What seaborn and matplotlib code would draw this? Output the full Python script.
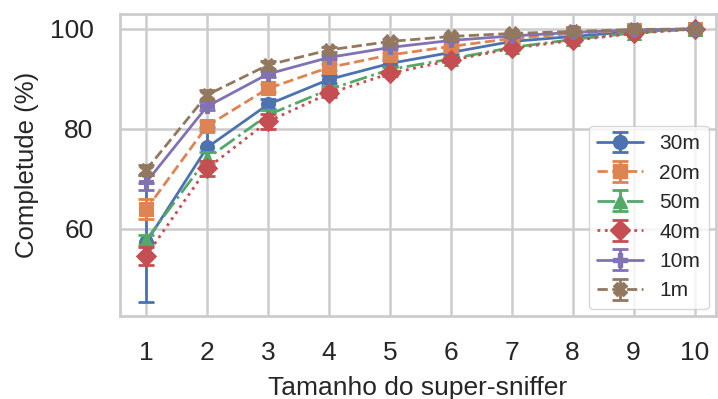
import numpy as np
import pandas as pd
import matplotlib
matplotlib.use("Agg")
import matplotlib.pyplot as plt
import seaborn as sns
from matplotlib.legend_handler import HandlerTuple
from matplotlib.lines import Line2D

x = [1, 2, 3, 4, 5, 6, 7, 8, 9, 10]
labels = ["30m", "20m", "50m", "40m", "10m", "1m"]
y_30m = [57.3, 76.3, 84.9, 89.9, 93.1, 95.3, 97.5, 98.5, 99.5, 100.0]
y_20m = [63.9, 80.6, 88.1, 92.3, 94.8, 96.5, 98.1, 99.1, 99.7, 100.0]
y_50m = [57.8, 74.1, 82.8, 87.9, 91.9, 94.0, 96.3, 97.9, 99.2, 100.0]
y_40m = [54.6, 72.1, 81.5, 87.1, 91.1, 93.7, 96.1, 97.7, 99.1, 100.0]
y_10m = [69.3, 84.5, 91.0, 94.3, 96.3, 97.7, 98.6, 99.3, 99.8, 100.0]
y_1m = [71.8, 86.8, 92.8, 95.8, 97.5, 98.5, 99.1, 99.5, 99.9, 100.0]
e_30m = [11.8, 4.0, 1.0, 0.8, 0.6, 0.4, 0.3, 0.2, 0.1, 0.0]
e_20m = [2.0, 1.0, 0.8, 0.6, 0.4, 0.3, 0.2, 0.1, 0.1, 0.0]
e_50m = [1.0, 1.2, 0.9, 0.6, 0.4, 0.3, 0.2, 0.1, 0.1, 0.0]
e_40m = [1.7, 1.5, 1.5, 0.8, 0.5, 0.4, 0.3, 0.2, 0.1, 0.0]
e_10m = [1.5, 0.8, 0.6, 0.4, 0.3, 0.2, 0.2, 0.1, 0.1, 0.0]
e_1m = [1.0, 1.0, 0.8, 0.5, 0.4, 0.3, 0.2, 0.1, 0.1, 0.0]

ys = [y_30m, y_20m, y_50m, y_40m, y_10m, y_1m]
es = [e_30m, e_20m, e_50m, e_40m, e_10m, e_1m]
markers = ["o", "s", "^", "D", "P", "X"]
styles = ["-", "--", "-.", ":", "-", "--"]
pal = sns.color_palette("deep")
colors = [pal[0], pal[1], pal[2], pal[3], pal[4], pal[5]]

sns.set_theme(style="whitegrid")
plt.rcParams["font.family"] = ["Liberation Sans", "DejaVu Sans"]

fig = plt.figure(figsize=(7.18, 3.99), dpi=100)
ax = fig.add_axes([0.167, 0.208, 0.830, 0.757])

handles = []
for lab, y, e, m, ls, c in zip(labels, ys, es, markers, styles, colors):
    df = pd.DataFrame({"x": x, "y": y})
    sns.lineplot(data=df, x="x", y="y", ax=ax, color=c, marker=m, linestyle=ls,
                 linewidth=2, markersize=10, markeredgecolor=c, legend=False)
    eb = ax.errorbar(x, y, yerr=e, fmt="none", ecolor=c, elinewidth=2,
                     capsize=6, capthick=2)
    h = Line2D([], [], color=c, marker=m, linestyle=ls, linewidth=2,
               markersize=10, markeredgecolor=c)
    handles.append((eb, h))

ax.set_xlim(0.57, 10.35)
ax.set_ylim(42.6, 103)
ax.set_xticks(x)
ax.set_yticks([60, 80, 100])
ax.tick_params(axis="x", labelsize=19, pad=12)
ax.tick_params(axis="y", labelsize=19, pad=13)
ax.set_xlabel("Tamanho do super-sniffer", fontsize=19, labelpad=8)
ax.set_ylabel("Completude (%)", fontsize=18.5, labelpad=8)
for s in ax.spines.values():
    s.set_color("#cccccc")
    s.set_linewidth(2)
ax.grid(color="#cccccc", linewidth=1.8)

ax.legend(handles, labels, handler_map={tuple: HandlerTuple(ndivide=1)},
          loc="lower right", fontsize=15, frameon=True, borderaxespad=0.35,
          handlelength=2.2, labelspacing=0.5)

fig.savefig("out.png", dpi=100)
